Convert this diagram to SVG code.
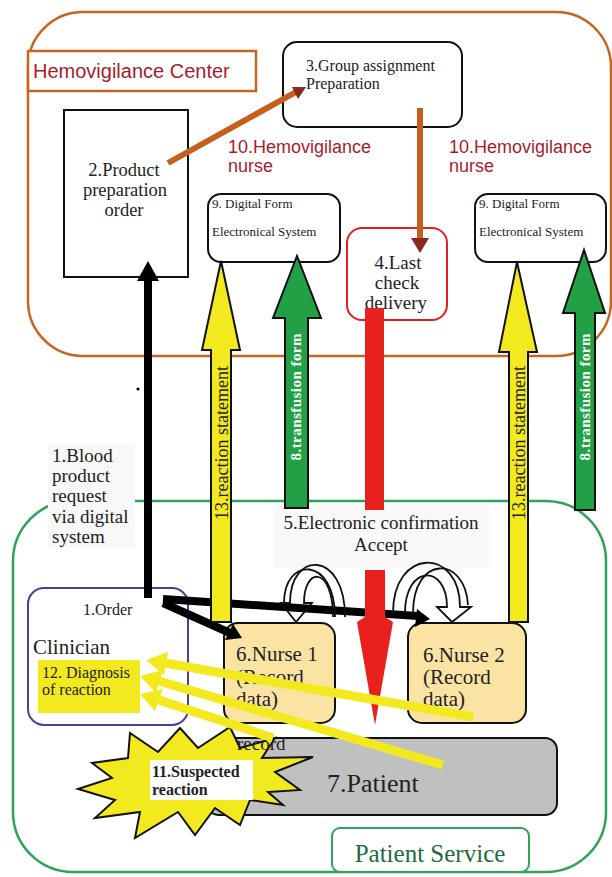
<svg xmlns="http://www.w3.org/2000/svg" width="612" height="877" viewBox="0 0 612 877">
<style>
.serif{font-family:"Liberation Serif","Times New Roman",serif;fill:#222}
.sans{font-family:"Liberation Sans",Arial,sans-serif}
.red{fill:#a51d2d}
.box{fill:#fff;stroke:#111;stroke-width:2}
.nurse{fill:#fbe3a3;stroke:#111;stroke-width:2}
.ylw{fill:#f2ea1e;stroke:#111;stroke-width:2}
.grn{fill:#22a045;stroke:#111;stroke-width:2}
.yl{stroke:#f2ea1e;stroke-width:9;fill:none}
.yh{fill:#f2ea1e}
.loop{fill:none;stroke:#111;stroke-width:1.8}
</style>
<rect width="612" height="877" fill="#fff"/>
<g id="hemovigilance-center">
<rect x="28" y="12" width="583" height="344" rx="55" fill="none" stroke="#c8641e" stroke-width="2.5"/>
<rect x="28" y="51" width="228" height="40" fill="#fff" stroke="#c8641e" stroke-width="2.5"/>
<text x="33" y="78" class="sans red" font-size="20">Hemovigilance Center</text>
</g>
<g id="patient-service-area">
<rect x="13" y="501" width="593" height="371" rx="60" fill="none" stroke="#2ea35a" stroke-width="2.5"/>
</g>
<g id="labels-bg">
<rect x="48" y="443" width="87" height="105" fill="#f8f8f8"/>
<rect x="275" y="505" width="214" height="63" fill="#f8f8f8"/>
</g>
<g id="node-2">
<rect x="64" y="110" width="124" height="167" class="box"/>
<text class="serif" font-size="18.5" text-anchor="middle"><tspan x="124" y="176">2.Product</tspan><tspan x="125" y="196">preparation</tspan><tspan x="124" y="216">order</tspan></text>
</g>
<g id="node-3">
<rect x="283" y="42" width="179" height="85" rx="14" class="box"/>
<text class="serif" font-size="16"><tspan x="306" y="71">3.Group assignment</tspan><tspan x="306" y="89">Preparation</tspan></text>
</g>
<g id="label-10a"><text class="sans red" font-size="18"><tspan x="228" y="153">10.Hemovigilance</tspan><tspan x="228" y="172">nurse</tspan></text></g>
<g id="label-10b"><text class="sans red" font-size="18"><tspan x="449" y="153">10.Hemovigilance</tspan><tspan x="449" y="172">nurse</tspan></text></g>
<g id="node-9a">
<rect x="208" y="194" width="132" height="68" rx="13" class="box"/>
<text class="serif" font-size="13"><tspan x="212" y="208">9. Digital Form</tspan><tspan x="212" y="236">Electronical System</tspan></text>
</g>
<g id="node-9b">
<rect x="475" y="194" width="131" height="68" rx="13" class="box"/>
<text class="serif" font-size="13"><tspan x="479" y="208">9. Digital Form</tspan><tspan x="479" y="236">Electronical System</tspan></text>
</g>
<g id="node-4">
<rect x="347" y="228" width="100" height="92" rx="15" fill="#fff" stroke="#e02020" stroke-width="2"/>
<text class="serif" font-size="19" text-anchor="middle"><tspan x="398" y="269">4.Last</tspan><tspan x="397" y="289">check</tspan><tspan x="396" y="309">delivery</tspan></text>
</g>
<g id="label-1">
<text class="serif" font-size="19"><tspan x="52" y="462">1.Blood</tspan><tspan x="52" y="482">product</tspan><tspan x="52" y="502">request</tspan><tspan x="52" y="523">via digital</tspan><tspan x="52" y="543">system</tspan></text>
</g>
<g id="label-5">
<text class="serif" font-size="19" text-anchor="middle"><tspan x="381" y="529">5.Electronic confirmation</tspan><tspan x="381" y="551">Accept</tspan></text>
</g>
<g id="node-clinician">
<rect x="28" y="588" width="160" height="137" rx="16" fill="#fff" stroke="#56399a" stroke-width="2"/>
<text x="83" y="615" class="serif" font-size="16">1.Order</text>
<text x="33" y="654" class="serif" font-size="21">Clinician</text>
</g>
<g id="node-12">
<rect x="38" y="660" width="102" height="53" fill="#f2ea1e"/>
<text class="serif" font-size="16" fill="#333"><tspan x="42" y="678">12. Diagnosis</tspan><tspan x="42" y="695">of reaction</tspan></text>
</g>
<g id="node-nurse1">
<rect x="224" y="623" width="111" height="100" rx="14" class="nurse"/>
<text class="serif" font-size="21"><tspan x="236" y="661">6.Nurse 1</tspan><tspan x="236" y="684">(Record</tspan><tspan x="236" y="706">data)</tspan></text>
</g>
<g id="node-nurse2">
<rect x="408" y="623" width="118" height="100" rx="14" class="nurse"/>
<text class="serif" font-size="21"><tspan x="423" y="662">6.Nurse 2</tspan><tspan x="423" y="684">(Record</tspan><tspan x="423" y="706">data)</tspan></text>
</g>
<g id="node-patient">
<rect x="207" y="738" width="350" height="77" rx="12" fill="#c0c0c0" stroke="#111" stroke-width="2"/>
<text x="327" y="792" class="serif" font-size="26">7.Patient</text>
</g>
<g id="node-11">
<polygon class="ylw" points="78,789 112,778 92,763 128,758 130,733 158,752 180,728 198,748 230,727 240,748 275,738 262,758 313,757 275,772 300,790 268,792 283,805 250,800 240,825 215,808 195,835 178,812 135,838 140,812 95,818 115,800"/>
<rect x="150" y="760" width="103" height="40" fill="#fff"/>
<text class="serif" font-size="16" font-weight="bold"><tspan x="152" y="777">11.Suspected</tspan><tspan x="152" y="795">reaction</tspan></text>
<text x="237" y="750" class="serif" font-size="19">record</text>
</g>
<g id="node-patient-service">
<rect x="332" y="828" width="197" height="44" rx="8" fill="#fff" stroke="#2ea35a" stroke-width="2"/>
<text x="430" y="862" class="serif" font-size="25" text-anchor="middle" style="fill:#1e6b3c">Patient Service</text>
</g>
<g id="connectors">
<line x1="168" y1="163" x2="296" y2="92" stroke="#c5601c" stroke-width="6"/>
<polygon points="306,87 298,99 292,87" fill="#8a2a1a"/>
<line x1="420" y1="108" x2="420" y2="242" stroke="#c5601c" stroke-width="6"/>
<polygon points="420,253 411,238 429,238" fill="#8a2a1a"/>
<line x1="148" y1="598" x2="148" y2="276" stroke="#000" stroke-width="8"/>
<polygon points="148,261 137,281 159,281" fill="#000"/>
<line x1="163" y1="599" x2="418" y2="616" stroke="#000" stroke-width="8"/>
<polygon points="430,619 415,627 417,609" fill="#000"/>
<line x1="163" y1="603" x2="230" y2="633" stroke="#000" stroke-width="8"/>
<polygon points="242,638 225,640 233,624" fill="#000"/>
<polygon class="ylw" points="211,622 211,350 202,350 221,261 240,350 231,350 231,622"/>
<polygon class="grn" points="285,508 285,318 273,318 297,256 321,318 308,318 308,508"/>
<polygon class="ylw" points="509,622 509,352 499,352 517,262 537,352 528,352 528,622"/>
<polygon class="grn" points="575,510 575,313 563,313 584,250 605,313 595,313 595,510"/>
<text transform="translate(228,443) rotate(-90)" class="serif" font-size="18" text-anchor="middle">13.reaction statement</text>
<text transform="translate(525,443) rotate(-90)" class="serif" font-size="18" text-anchor="middle">13.reaction statement</text>
<text transform="translate(301,397) rotate(-90)" class="serif" font-size="15" font-weight="bold" text-anchor="middle" textLength="127" style="fill:#fff">8.transfusion form</text>
<text transform="translate(590,397) rotate(-90)" class="serif" font-size="15" font-weight="bold" text-anchor="middle" textLength="127" style="fill:#fff">8.transfusion form</text>
<rect x="365" y="308" width="19" height="202" fill="#e8201e"/>
<polygon points="365,570 385,570 385,617 393,622 375,725 357,622 365,617" fill="#e8201e"/>
<path class="loop" d="M345,617 C345,550 290,550 290,603 L281,603 L296,622 L312,603 L304,603 C304,566 333,566 333,617"/>
<path class="loop" d="M335,617 C335,556 284,556 284,603"/>
<path class="loop" d="M393,613 C393,547 460,547 460,607 L471,607 L452,622 L437,607 L447,607 C447,564 405,564 405,613"/>
<path class="loop" d="M413,613 C413,555 465,555 468,605"/>
<line class="yl" x1="473" y1="717" x2="165" y2="663"/>
<polygon class="yh" points="146,660 168,652 164,675"/>
<line class="yl" x1="443" y1="765" x2="159" y2="681"/>
<polygon class="yh" points="140,676 163,670 156,693"/>
<line class="yl" x1="273" y1="738" x2="159" y2="700"/>
<polygon class="yh" points="140,694 163,689 155,711"/>
<circle cx="138" cy="389" r="1.6" fill="#000"/>
</g>
</svg>
